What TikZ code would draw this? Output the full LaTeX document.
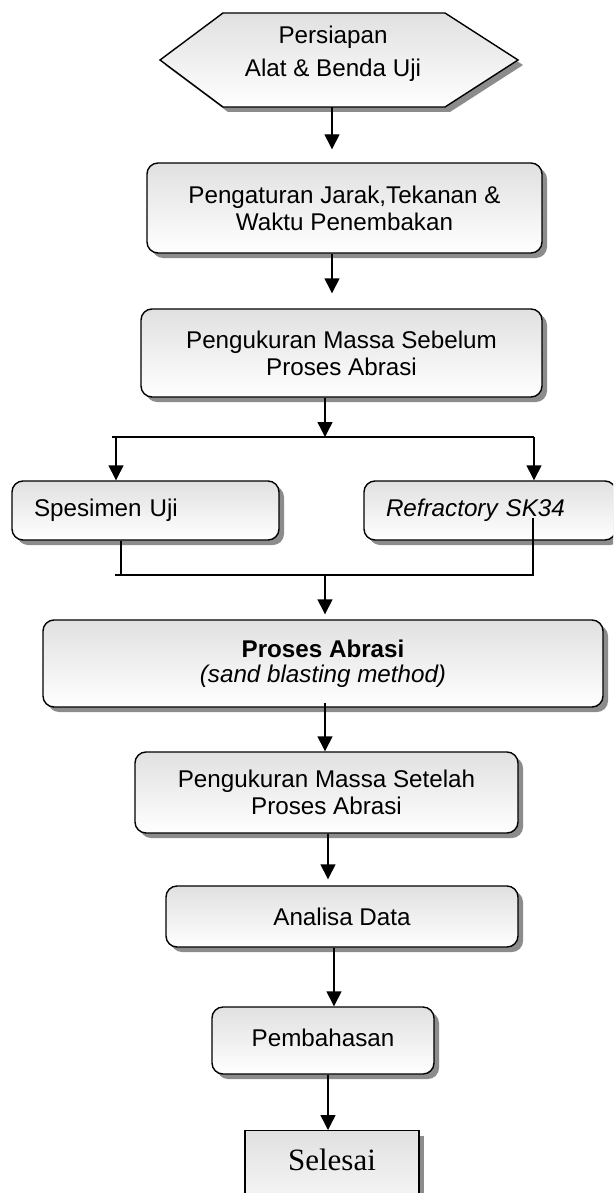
\documentclass[tikz,border=0pt]{standalone}
\usepackage{fontspec}
\setmainfont{Liberation Sans}
\newfontfamily\seriffont{Liberation Serif}
\usetikzlibrary{arrows.meta,shadows}

\begin{document}
\begin{tikzpicture}[x=1pt,y=-1pt,
  line width=1.4pt,
  boxfill/.style={top color=black!12, bottom color=white, draw=black},
  boxshadow/.style={drop shadow={shadow xshift=5pt, shadow yshift=-5pt, fill=black!45, opacity=1}},
  txt/.style={font=\fontsize{24.2}{27}\selectfont},
  procbox/.style={boxfill, boxshadow, rounded corners=11pt, align=center, inner sep=0pt, txt},
  sidebox/.style={boxfill, boxshadow, rounded corners=11pt, align=left, inner xsep=22pt, inner ysep=0pt, txt},
  endbox/.style={boxfill, boxshadow, inner sep=0pt, font=\seriffont\fontsize{31}{36}\selectfont},
  arr/.style={-{Triangle[length=15pt,width=15pt]}},
]
\fill[white] (0,0) rectangle (613,1193);
\useasboundingbox (0,0) rectangle (613,1193);
\clip (0,0) rectangle (613,1193);

% start: preparation hexagon
\coordinate (hexW) at (160,60);
\coordinate (hexNW) at (223,13);
\coordinate (hexNE) at (445,13);
\coordinate (hexE) at (518,60);
\coordinate (hexSE) at (445,107);
\coordinate (hexSW) at (223,107);
\coordinate (hexS) at (332,107);
\path[boxfill, boxshadow] (hexW) -- (hexNW) -- (hexNE) -- (hexE) -- (hexSE) -- (hexSW) -- cycle;
\node[align=center, inner sep=0pt, font=\fontsize{24.2}{33}\selectfont] (prep) at (333,54) {Persiapan\\Alat \& Benda Uji};

% process steps
\node[procbox, minimum width=395pt, minimum height=90pt] (b2) at (344.5,208)
  {Pengaturan Jarak,Tekanan \&\\Waktu Penembakan};
\node[procbox, minimum width=401pt, minimum height=88pt] (b3) at (341.5,353)
  {Pengukuran Massa Sebelum\\Proses Abrasi};
\node[sidebox, text width=223pt, minimum height=59pt] (spec) at (145.5,510.5) {Spesimen Uji};
\node[sidebox, text width=208pt, minimum height=59pt] (ref) at (490,510.5) {\textit{Refractory SK34}};
\node[procbox, minimum width=560pt, minimum height=87pt, font=\fontsize{24.2}{25}\selectfont] (ab) at (323,663.5)
  {\textbf{Proses Abrasi}\\\textit{(sand blasting method)}};
\node[procbox, minimum width=383pt, minimum height=81pt] (b5) at (326.5,792.5)
  {Pengukuran Massa Setelah\\Proses Abrasi};
\node[procbox, minimum width=352pt, minimum height=61pt] (an) at (342,916.5) {Analisa Data};
\node[procbox, minimum width=222pt, minimum height=67pt, text depth=6pt] (pb) at (323,1040.5) {Pembahasan};
\node[endbox, anchor=north, minimum width=174pt, minimum height=100pt, text height=21pt, text depth=42pt] (sel) at (332,1130) {Selesai};

% connectors
\draw[arr] (hexS) -- ([yshift=13pt]b2.north -| hexS);
\draw[arr] (b2.south -| hexS) -- ([yshift=15pt]b3.north -| hexS);

\coordinate (fork) at (325,437);
\coordinate (forkL) at (112,437);
\coordinate (forkR) at (534,437);
\draw[arr] (b3.south -| fork) -- (fork);
\draw (forkL) -- (forkR);
\draw[arr] ([xshift=-29.5pt]spec.north |- fork) -- ([xshift=-29.5pt]spec.north);
\draw[arr] (forkR) -- (ref.north -| forkR);

\coordinate (join) at (325,575);
\coordinate (joinL) at (115,575);
\coordinate (joinR) at (533,575);
\draw ([xshift=-24.5pt]spec.south) -- ([xshift=-24.5pt]spec.south |- join);
\draw (joinL) -- (joinR) -- ([yshift=-7.5pt]ref.center -| joinR);
\draw[arr] (join) -- ([yshift=5pt]ab.north -| join);

\draw[arr] ([yshift=5pt]ab.south -| join) -- (b5.north -| join);
\draw[arr] ([xshift=1.5pt]b5.south) -- ([xshift=1.5pt,yshift=6pt]b5.south |- an.north);
\draw[arr] ([xshift=-8pt]an.south) -- ([xshift=-8pt]an.south |- pb.north);
\draw[arr] ([xshift=5pt]pb.south) -- ([xshift=5pt]pb.south |- sel.north);
\end{tikzpicture}
\end{document}
